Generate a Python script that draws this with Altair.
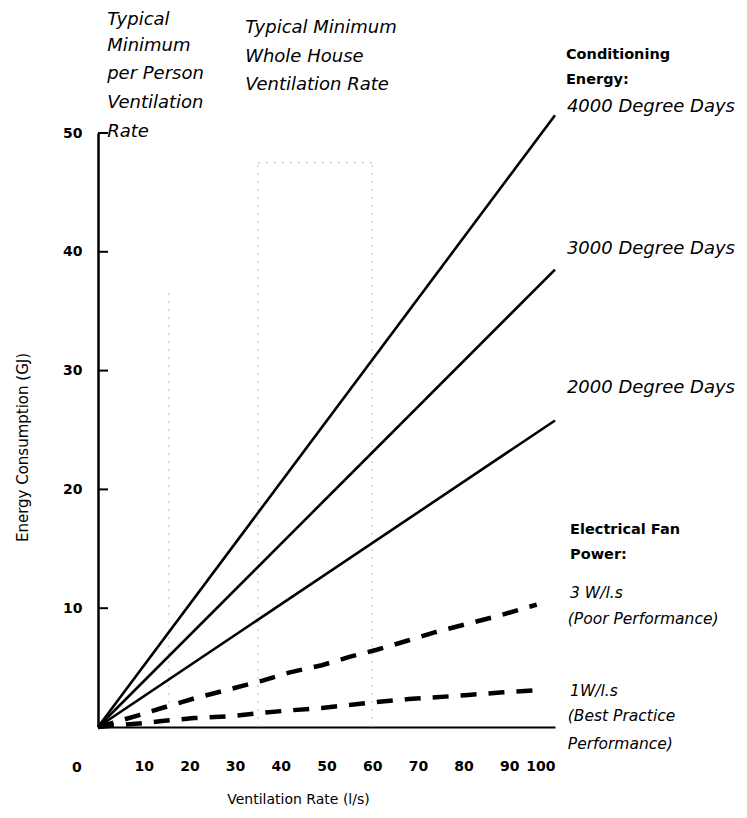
import altair as alt
import pandas as pd

# ---- data ----
SOLID_X = [0, 100]
DD4000 = [0, 51.5]
DD3000 = [0, 38.5]
DD2000 = [0, 25.8]

FAN_X = [0, 9, 14, 21, 29, 36, 42, 49, 55, 61, 68, 74, 81, 88, 96]
FAN3 = [0, 1.0, 1.6, 2.4, 3.2, 3.9, 4.6, 5.2, 5.9, 6.5, 7.3, 8.0, 8.7, 9.4, 10.3]
FAN1 = [0, 0.3, 0.5, 0.75, 0.9, 1.2, 1.4, 1.6, 1.85, 2.1, 2.35, 2.5, 2.7, 2.9, 3.1]

# faint dotted reference segments (x, y, x2, y2)
REF_X = [15.5, 35, 60, 35]
REF_Y = [2, 0, 0, 47.5]
REF_X2 = [15.5, 35, 60, 60]
REF_Y2 = [37, 47.5, 47.5, 47.5]

Y_TICKS = [10, 20, 30, 40, 50]
X_LABELS = [10, 20, 30, 40, 50, 60, 70, 80, 90, 100]
Y_LABELS = [10, 20, 30, 40, 50]

# annotations: text, x, y (data units)
BIG_TEXT = ["Typical", "Minimum", "per Person", "Ventilation", "Rate",
            "Typical Minimum", "Whole House", "Ventilation Rate",
            "4000 Degree Days", "3000 Degree Days", "2000 Degree Days"]
BIG_X = [2.0, 2.0, 2.0, 2.0, 2.0, 32.2, 32.2, 32.2, 102.6, 102.6, 102.6]
BIG_Y = [59.5, 57.3, 55.0, 52.5, 50.1, 58.8, 56.4, 54.0, 52.2, 40.2, 28.5]

HEAD_TEXT = ["Conditioning", "Energy:", "Electrical Fan", "Power:"]
HEAD_X = [102.4, 102.4, 103.3, 103.3]
HEAD_Y = [56.6, 54.5, 16.6, 14.5]

SMALL_TEXT = ["3 W/l.s", "(Poor Performance)", "1W/l.s", "(Best Practice", "Performance)"]
SMALL_X = [103.3, 102.8, 103.3, 102.8, 102.8]
SMALL_Y = [11.3, 9.1, 3.0, 0.9, -1.4]

ZERO_TEXT = ["0"]
ZERO_X = [-5.7]
ZERO_Y = [-3.45]

FONT = "DejaVu Sans"

rows = []
for name, ys in [("4000", DD4000), ("3000", DD3000), ("2000", DD2000)]:
    for x, y in zip(SOLID_X, ys):
        rows.append({"series": name, "x": x, "y": y})
solid_df = pd.DataFrame(rows)

rows = []
for name, ys in [("3W", FAN3), ("1W", FAN1)]:
    for x, y in zip(FAN_X, ys):
        rows.append({"series": name, "x": x, "y": y})
fan_df = pd.DataFrame(rows)

ref_df = pd.DataFrame({"x": REF_X, "y": REF_Y, "x2": REF_X2, "y2": REF_Y2})
tick_df = pd.DataFrame({"y": Y_TICKS})
big_df = pd.DataFrame({"t": BIG_TEXT, "x": BIG_X, "y": BIG_Y})
head_df = pd.DataFrame({"t": HEAD_TEXT, "x": HEAD_X, "y": HEAD_Y})
small_df = pd.DataFrame({"t": SMALL_TEXT, "x": SMALL_X, "y": SMALL_Y})
zero_df = pd.DataFrame({"t": ZERO_TEXT, "x": ZERO_X, "y": ZERO_Y})

xs = alt.Scale(domain=[0, 100], nice=False, zero=False)
ys = alt.Scale(domain=[0, 50], nice=False, zero=False)

x_axis = alt.Axis(values=X_LABELS, ticks=False, grid=False, domainColor="black",
                  domainWidth=2, labelPadding=32, labelFont=FONT, labelFontSize=14,
                  labelFontWeight="bold", labelColor="black",
                  title="Ventilation Rate (l/s)", titleFont=FONT, titleFontSize=14,
                  titleFontWeight="normal", titleColor="black", titleX=200, titleY=72,
                  titleBaseline="middle")
y_axis = alt.Axis(values=Y_LABELS, ticks=False, grid=False, domainColor="black",
                  domainWidth=2.5, labelPadding=16, labelFont=FONT, labelFontSize=14,
                  labelFontWeight="bold", labelColor="black",
                  title="Energy Consumption (GJ)", titleFont=FONT, titleFontSize=15,
                  titleFontWeight="normal", titleColor="black", titleX=-76, titleY=314,
                  titleBaseline="middle")

solid = alt.Chart(solid_df).mark_line(color="black", strokeWidth=2.6).encode(
    x=alt.X("x:Q", scale=xs, axis=x_axis),
    y=alt.Y("y:Q", scale=ys, axis=y_axis),
    detail="series:N",
)

fan = alt.Chart(fan_df).mark_line(color="black", strokeWidth=4.5, strokeDash=[16, 12]).encode(
    x=alt.X("x:Q", scale=xs),
    y=alt.Y("y:Q", scale=ys),
    detail="series:N",
)

refs = alt.Chart(ref_df).mark_rule(color="#c8c8c8", strokeWidth=1.2, strokeDash=[2, 6]).encode(
    x=alt.X("x:Q", scale=xs), y=alt.Y("y:Q", scale=ys),
    x2="x2:Q", y2="y2:Q",
)

ticks = alt.Chart(tick_df).mark_rule(color="black", strokeWidth=2).encode(
    y=alt.Y("y:Q", scale=ys), x=alt.value(0), x2=alt.value(10),
)

def text_layer(df, size, weight, style):
    return alt.Chart(df).mark_text(
        align="left", baseline="middle", font=FONT, fontSize=size,
        fontWeight=weight, fontStyle=style, color="black",
    ).encode(x=alt.X("x:Q", scale=xs), y=alt.Y("y:Q", scale=ys), text="t:N")

big = text_layer(big_df, 18, "normal", "italic")
head = text_layer(head_df, 14.5, "bold", "normal")
small = text_layer(small_df, 15.5, "normal", "italic")
zero = text_layer(zero_df, 14, "bold", "normal")

chart = alt.layer(refs, solid, fan, ticks, big, head, small, zero).properties(
    width=457, height=594,
    autosize=alt.AutoSizeParams(type="none"),
    padding={"left": 90, "top": 125, "right": 184, "bottom": 80},
    background="white",
).configure_view(strokeWidth=0)

chart.save("out.html", embed_options={"renderer": "svg", "actions": False})
